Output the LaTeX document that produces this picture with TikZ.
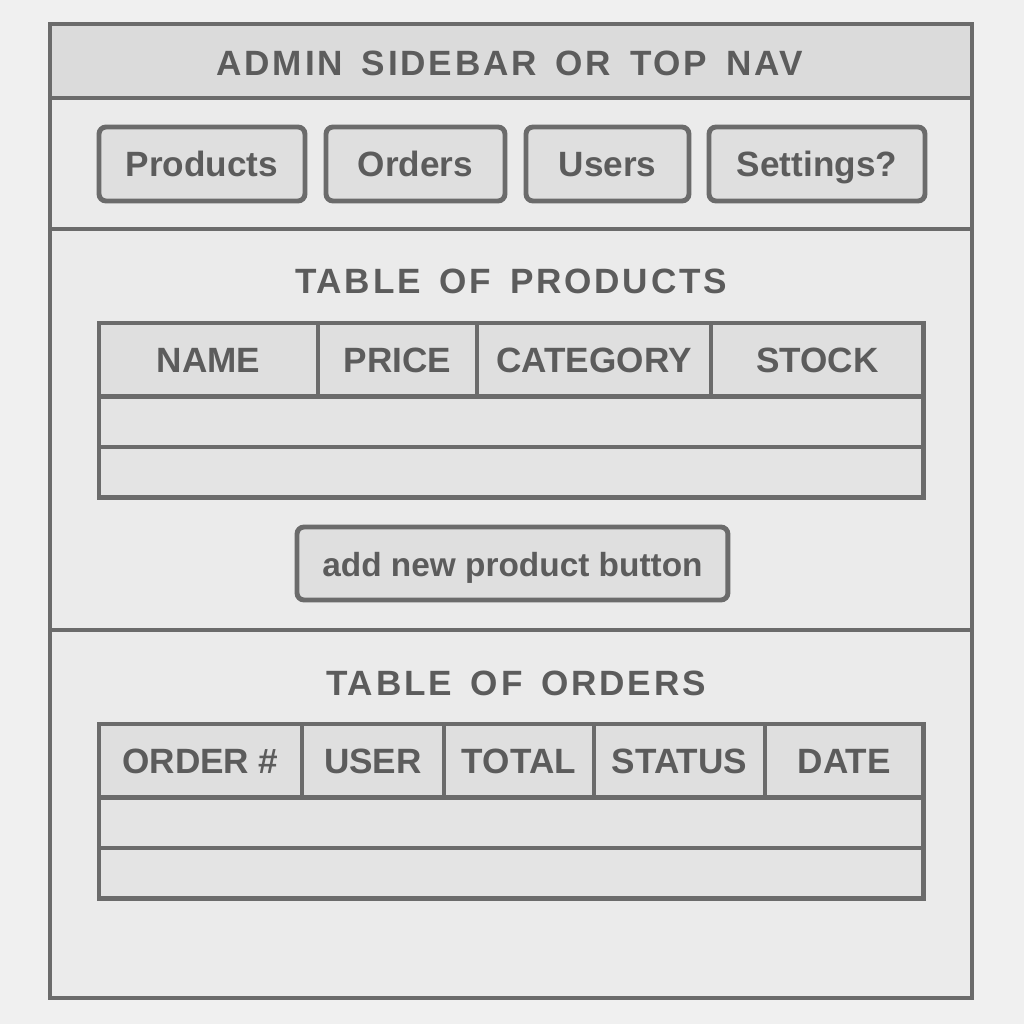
\documentclass[tikz,border=0pt]{standalone}
\usepackage{fontspec}
\setmainfont{Liberation Sans}
\newfontfamily\titlefont{Liberation Sans}[LetterSpace=8,WordSpace=1.5]
\usetikzlibrary{positioning}
\definecolor{paper}{HTML}{F0F0F0}
\definecolor{panel}{HTML}{EBEBEB}
\definecolor{band}{HTML}{DBDBDB}
\definecolor{cellfill}{HTML}{DFDFDF}
\definecolor{rowfill}{HTML}{E4E4E4}
\definecolor{linegray}{HTML}{6B6B6B}
\definecolor{ink}{HTML}{5C5C5C}
\newcommand{\bigcaps}{\titlefont\fontsize{20}{24}\selectfont\bfseries}

\begin{document}
\begin{tikzpicture}[x=0.02cm,y=-0.02cm]
\tikzstyle{frame}=[draw=linegray, line width=2.8pt]
\tikzstyle{cell}=[rectangle, draw=linegray, line width=2.3pt, fill=cellfill, inner sep=0pt, outer sep=0pt, text=ink, text height=14.3pt, text depth=0pt, font=\fontsize{20}{24}\selectfont\bfseries]
\tikzstyle{hdr}=[cell, minimum height=1.47cm]
\tikzstyle{row}=[cell, fill=rowfill, minimum height=1.01cm]
\tikzstyle{tab}=[cell, line width=2.8pt, rounded corners=4pt, minimum height=1.48cm]
\tikzstyle{title}=[text=ink, font=\bigcaps]

  \useasboundingbox[fill=paper] (0,0) rectangle (1024,1024);

  % page frame and bands
  \fill[panel] (50,24) rectangle (972,998);
  \fill[band] (50,24) rectangle (972,98);
  \coordinate (bandl) at (50,98);   \coordinate (bandr) at (972,98);
  \coordinate (navl) at (50,229);   \coordinate (navr) at (972,229);
  \coordinate (prodl) at (50,630);  \coordinate (prodr) at (972,630);
  \draw[frame] (bandl) -- (bandr);
  \draw[frame] (navl) -- (navr);
  \draw[frame] (prodl) -- (prodr);
  \draw[frame] (50,24) rectangle (972,998);

  \node[title] (navtitle) at (510,63) {ADMIN SIDEBAR OR TOP NAV};

  % nav buttons
  \node[tab, minimum width=4.12cm, anchor=north west] (navproducts) at (99,127) {Products};
  \node[tab, minimum width=3.58cm, anchor=north west] (navorders)   at (326,127) {Orders};
  \node[tab, minimum width=3.26cm, anchor=north west] (navusers)    at (526,127) {Users};
  \node[tab, minimum width=4.32cm, anchor=north west] (navsettings) at (709,127) {Settings?};

  % products
  \node[title] (prodtitle) at (511,281) {TABLE OF PRODUCTS};

  \node[hdr, minimum width=4.38cm, anchor=north west] (pname) at (99,323) {NAME};
  \node[hdr, minimum width=3.18cm, right=0pt of pname]  (pprice) {PRICE};
  \node[hdr, minimum width=4.68cm, right=0pt of pprice] (pcategory) {CATEGORY};
  \node[hdr, minimum width=4.26cm, right=0pt of pcategory] (pstock) {STOCK};
  \node[row, minimum width=16.5cm, anchor=north west] (prow1) at (pname.south west) {};
  \node[row, minimum width=16.5cm, below=0pt of prow1] (prow2) {};
  \draw[frame] (pname.north west) rectangle (prow2.south east);

  \node[tab, minimum width=8.62cm, minimum height=1.46cm, anchor=north west, font=\fontsize{19}{23}\selectfont\bfseries] (addbtn) at (297,527) {add new product button};

  % orders
  \node[title] (ordtitle) at (516,683) {TABLE OF ORDERS};

  \node[hdr, minimum width=4.06cm, anchor=north west] (oorder) at (99,724) {ORDER \#};
  \node[hdr, minimum width=2.84cm, right=0pt of oorder] (ouser) {USER};
  \node[hdr, minimum width=3.00cm, right=0pt of ouser]  (ototal) {TOTAL};
  \node[hdr, minimum width=3.42cm, right=0pt of ototal] (ostatus) {STATUS};
  \node[hdr, minimum width=3.18cm, right=0pt of ostatus] (odate) {DATE};
  \node[row, minimum width=16.5cm, anchor=north west] (orow1) at (oorder.south west) {};
  \node[row, minimum width=16.5cm, below=0pt of orow1] (orow2) {};
  \draw[frame] (oorder.north west) rectangle (orow2.south east);

\end{tikzpicture}
\end{document}
